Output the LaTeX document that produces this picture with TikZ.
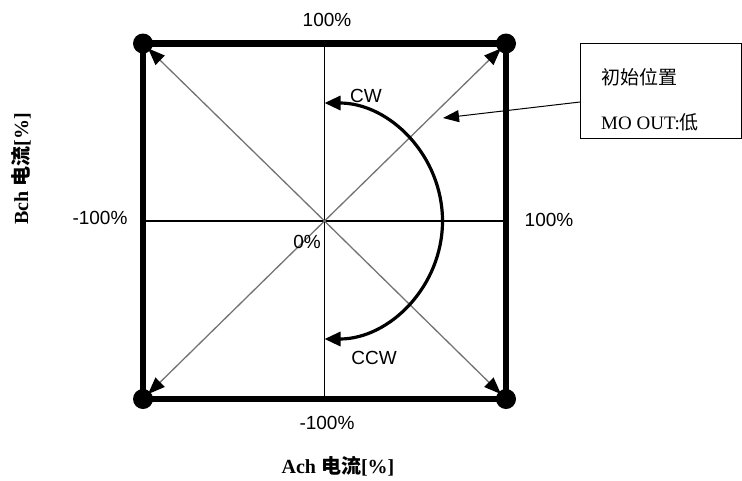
\documentclass[tikz,border=0pt]{standalone}
\usepackage{fontspec}
\setmainfont{Liberation Serif}
\newfontfamily\arialf{Liberation Sans}
\newfontfamily\cjk{Noto Sans CJK SC}
\usetikzlibrary{arrows.meta,calc}
\begin{document}
\begin{tikzpicture}[x=1pt,y=-1pt,
  frame/.style={line width=6.5pt},
  cornerdot/.style={fill=black},
  axisline/.style={line width=1.2pt},
  diag/.style={line width=1.3pt,draw=black!55,-{Triangle[length=17pt,width=13pt,color=black,fill=black]},shorten >=7pt},
  turnarc/.style={line width=3.2pt,{Triangle[length=16pt,width=14pt]}-{Triangle[length=16pt,width=14pt]}},
  lbl/.style={font=\arialf\fontsize{19}{22}\selectfont,inner sep=0pt},
  axlbl/.style={font=\bfseries\fontsize{20}{24}\selectfont,inner sep=0pt},
  boxtxt/.style={anchor=west,inner sep=0pt,font=\fontsize{19}{22}\selectfont},
]
\useasboundingbox (0,0) rectangle (742,480);
\coordinate (TL) at (143,43.5);
\coordinate (TR) at (506,43.5);
\coordinate (BR) at (506,399);
\coordinate (BL) at (143,399);
\coordinate (O) at (324.5,221);
\coordinate (AT) at (324.5,43.5);
\coordinate (AB) at (324.5,399);
\coordinate (AL) at (143,221);
\coordinate (AR) at (506,221);
% axes
\draw[axisline] (AT) -- (AB);
\draw[axisline] (AL) -- (AR);
% diagonals
\draw[diag] (O) -- (TL);
\draw[diag] (O) -- (TR);
\draw[diag] (O) -- (BL);
\draw[diag] (O) -- (BR);
% frame
\draw[frame] (TL) -- (TR) -- (BR) -- (BL) -- cycle;
\foreach \c in {TL,TR,BR,BL} \fill[cornerdot] (\c) circle (10pt);
% rotation arc
\coordinate (arcTop) at (324.5,103);
\draw[turnarc] (arcTop) arc[start angle=-90,end angle=90,radius=118];
% labels
\node[lbl] (t100) at (327,20) {100\%};
\node[lbl] (b100) at (327,423) {-100\%};
\node[lbl] (l100) at (100,218) {-100\%};
\node[lbl] (r100) at (549,220) {100\%};
\node[lbl,anchor=east] (zero) at (321,242) {0\%};
\node[lbl] (cw) at (366,96) {CW};
\node[lbl] (ccw) at (374,358) {CCW};
\node[axlbl] (ach) at (338,466) {Ach {\cjk\bfseries 电流}[\%]};
\node[axlbl,rotate=90] (bch) at (21,169) {Bch {\cjk\bfseries 电流}[\%]};
% callout
\node[draw,line width=1pt,anchor=north west,minimum width=161pt,minimum height=95pt,inner sep=0pt] (box) at (580,43) {};
\node[boxtxt] (c1) at (601,77) {\cjk 初始位置};
\node[boxtxt] (c2) at (601,122) {MO OUT:{\cjk 低}};
\coordinate (callTip) at (443,118);
\draw[line width=1pt,-{Triangle[length=16pt,width=12pt]}] ([yshift=-59pt]box.north west) -- (callTip);
\end{tikzpicture}
\end{document}
